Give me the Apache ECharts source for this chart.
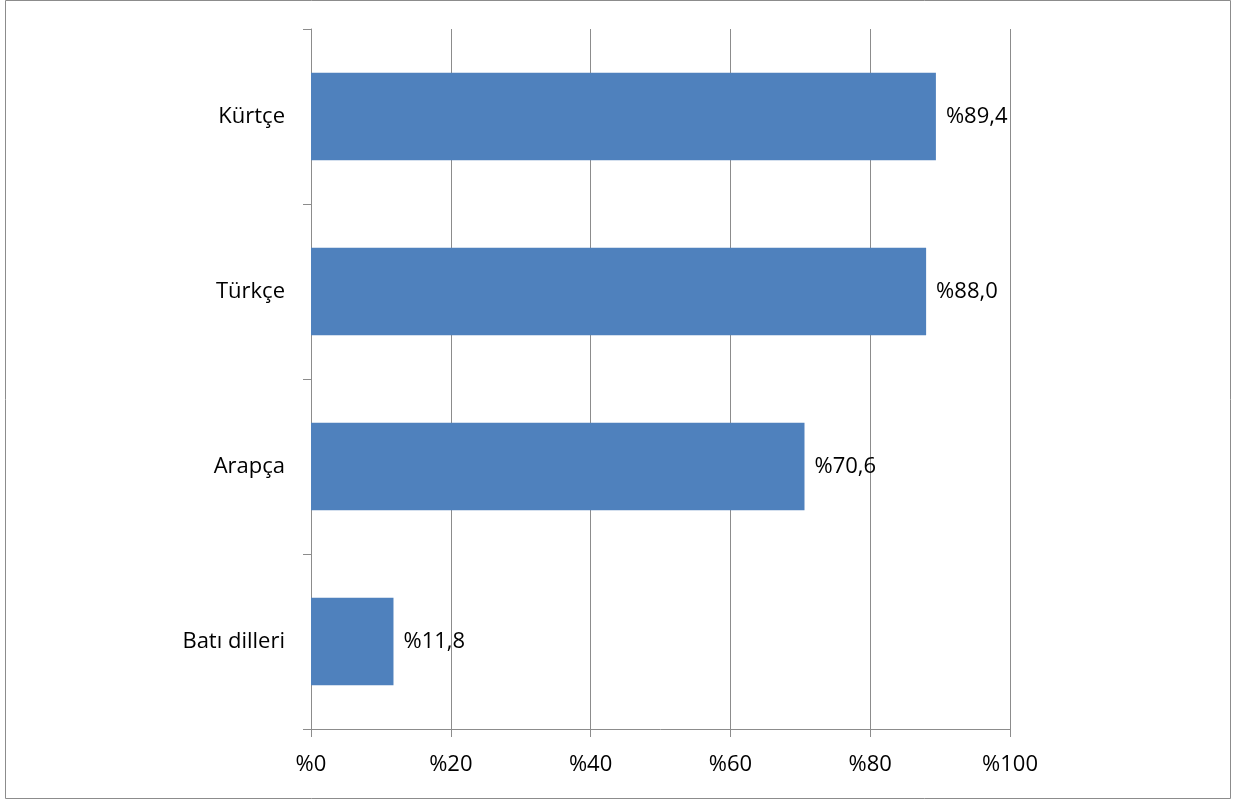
<!DOCTYPE html>
<html>
<head>
<meta charset="utf-8">
<script src="https://cdn.jsdelivr.net/npm/echarts@6/dist/echarts.min.js"></script>
<style>
html,body{margin:0;padding:0;background:#fff;}
#main{width:1248px;height:802px;}
</style>
</head>
<body>
<div id="main"></div>
<script>
const categories = ["Kürtçe", "Türkçe", "Arapça", "Batı dilleri"];
const values = [89.4, 88.0, 70.6, 11.8];
const xTicks = [0, 20, 40, 60, 80, 100];

const chart = echarts.init(document.getElementById('main'), null, {renderer: 'canvas'});
const font = "'Open Sans', 'Liberation Sans', sans-serif";
const gridColor = '#8c8c8c';

chart.setOption({
  animation: false,
  backgroundColor: '#ffffff',
  graphic: [{
    type: 'rect',
    shape: {x: 5.5, y: 0.5, width: 1225, height: 798},
    style: {fill: 'none', stroke: '#8c8c8c', lineWidth: 1},
    silent: true
  }],
  grid: {left: 311, right: 238, top: 29, bottom: 73, containLabel: false},
  xAxis: {
    type: 'value',
    min: xTicks[0],
    max: xTicks[xTicks.length - 1],
    interval: 20,
    axisLine: {show: true, lineStyle: {color: gridColor, width: 1}},
    axisTick: {show: true, length: 8, lineStyle: {color: gridColor}},
    splitLine: {show: true, lineStyle: {color: gridColor, width: 1}},
    axisLabel: {
      margin: 25,
      color: '#000',
      fontFamily: font,
      fontSize: 22,
      formatter: v => '%' + v
    }
  },
  yAxis: {
    type: 'category',
    data: categories,
    inverse: true,
    axisLine: {show: true, lineStyle: {color: gridColor, width: 1}},
    axisTick: {show: true, length: 8, lineStyle: {color: gridColor}},
    axisLabel: {
      margin: 26,
      color: '#000',
      fontFamily: font,
      fontSize: 22,
      padding: [4, 0, 0, 0]
    }
  },
  series: [{
    type: 'bar',
    data: values,
    barCategoryGap: '50%',
    itemStyle: {color: '#4F81BD'},
    label: {
      show: true,
      position: 'right',
      distance: 10,
      color: '#000',
      fontFamily: font,
      fontSize: 22,
      padding: [4, 0, 0, 0],
      formatter: p => '%' + p.value.toFixed(1).replace('.', ',')
    }
  }]
});
</script>
</body>
</html>
